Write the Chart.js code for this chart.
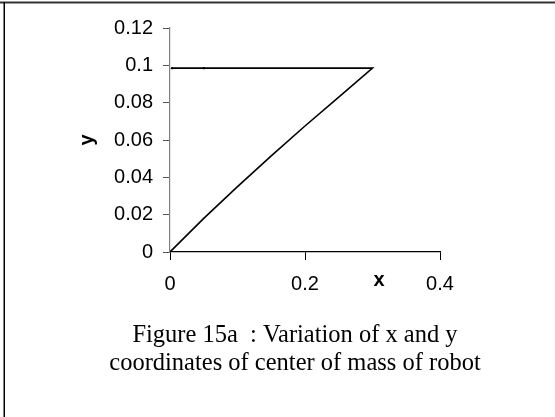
<!DOCTYPE html>
<html>
<head>
<meta charset="utf-8">
<script src="https://cdn.jsdelivr.net/npm/chart.js@4/dist/chart.umd.min.js"></script>
<style>
  html, body { margin: 0; padding: 0; background: #ffffff; }
  canvas { display: block; }
</style>
</head>
<body>
<canvas id="chart" width="555" height="417"></canvas>
<script>
// Path of the robot's centre of mass: rising diagonal, then back along the top
const pathX = [0, 0.05, 0.1, 0.15, 0.2, 0.25, 0.3, 0.05, 0.003];
const pathY = [0, 0.018, 0.035, 0.0515, 0.0675, 0.083, 0.0985, 0.0985, 0.0985];

// Axis ranges and tick steps
const xTicks = [0, 0.2, 0.4];
const yTicks = [0, 0.02, 0.04, 0.06, 0.08, 0.1, 0.12];

const captionLines = [
  'Figure 15a  : Variation of x and y',
  'coordinates of center of mass of robot'
];

const points = pathX.map((x, i) => ({ x: x, y: pathY[i] }));

const decorations = {
  id: 'decorations',
  afterDraw(chart) {
    const ctx = chart.ctx;
    ctx.save();
    // frame edges
    ctx.fillStyle = '#333333';
    ctx.fillRect(0, 1.5, 555, 2);
    ctx.fillStyle = '#000000';
    ctx.fillRect(3.5, 2, 1.5, 415);

    // axis titles
    ctx.fillStyle = '#000000';
    ctx.font = 'bold 20px "Liberation Sans", Arial, sans-serif';
    ctx.textAlign = 'center';
    ctx.textBaseline = 'middle';
    ctx.fillText('x', 379, 280);
    ctx.save();
    ctx.translate(87, 140);
    ctx.rotate(-Math.PI / 2);
    ctx.fillText('y', 0, 0);
    ctx.restore();

    // caption
    ctx.font = '24.5px "Liberation Serif", "Times New Roman", serif';
    ctx.textBaseline = 'alphabetic';
    ctx.fillText(captionLines[0], 295, 342);
    ctx.fillText(captionLines[1], 295, 370);
    ctx.restore();
  }
};

const tickFont = { family: '"Liberation Sans", Arial, sans-serif', size: 20 };
const fmt = v => String(Number(v.toFixed(2)));

new Chart(document.getElementById('chart'), {
  type: 'scatter',
  data: {
    datasets: [{
      data: points,
      showLine: true,
      borderColor: '#000000',
      borderWidth: 1.6,
      pointRadius: [0, 0, 0, 0, 0, 0, 0, 1.2, 1.2],
      pointBackgroundColor: '#000000',
      pointBorderWidth: 0,
      tension: 0
    }]
  },
  options: {
    responsive: false,
    animation: false,
    events: [],
    layout: { padding: { top: 28, right: 115, bottom: 125, left: 0 } },
    plugins: { legend: { display: false }, tooltip: { enabled: false }, title: { display: false } },
    scales: {
      x: {
        type: 'linear',
        min: xTicks[0],
        max: xTicks[xTicks.length - 1],
        afterBuildTicks: s => { s.ticks = xTicks.map(v => ({ value: v })); },
        afterFit: s => { s.height = 40; },
        ticks: { font: tickFont, color: '#000000', padding: 12, callback: fmt, maxRotation: 0 },
        grid: { drawOnChartArea: false, drawTicks: true, tickLength: 8, tickColor: '#000000', tickWidth: 1 },
        border: { display: true, color: '#000000', width: 1.2 }
      },
      y: {
        type: 'linear',
        min: yTicks[0],
        max: yTicks[yTicks.length - 1],
        afterBuildTicks: s => { s.ticks = yTicks.map(v => ({ value: v })); },
        afterFit: s => { s.width = 170; },
        ticks: { font: tickFont, color: '#000000', padding: 10, callback: fmt },
        grid: { drawOnChartArea: false, drawTicks: true, tickLength: 7, tickColor: '#555555', tickWidth: 1 },
        border: { display: true, color: '#808080', width: 1.2 }
      }
    }
  },
  plugins: [decorations]
});
</script>
</body>
</html>
